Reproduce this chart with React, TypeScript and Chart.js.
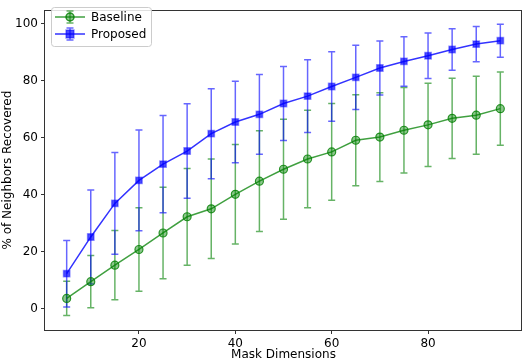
import React, { useEffect, useRef } from "react";
import { Chart, registerables } from "chart.js";

Chart.register(...registerables);

const xValues = [5, 10, 15, 20, 25, 30, 35, 40, 45, 50, 55, 60, 65, 70, 75, 80, 85, 90, 95];
const baseline = [3.5, 9.4, 15.2, 20.7, 26.5, 32.2, 35.0, 40.1, 44.7, 48.9, 52.5, 55.0, 59.1, 60.2, 62.6, 64.5, 66.8, 67.9, 70.2];
const baselineErr = [6.0, 9.2, 12.2, 14.7, 16.1, 17.0, 17.5, 17.5, 17.7, 17.6, 17.1, 17.0, 16.0, 15.6, 15.0, 14.6, 14.1, 13.7, 12.9];
const proposed = [12.2, 25.1, 36.9, 45.0, 50.7, 55.3, 61.4, 65.5, 68.2, 72.0, 74.6, 78.0, 81.2, 84.5, 86.8, 88.8, 91.0, 92.9, 94.1];
const proposedErr = [11.7, 16.5, 17.9, 17.7, 17.1, 16.6, 15.8, 14.3, 14.0, 13.0, 12.8, 12.2, 11.3, 9.5, 8.7, 8.0, 7.3, 6.2, 5.8];
const xTicks = [20, 40, 60, 80];
const yTicks = [0, 20, 40, 60, 80, 100];
const seriesNames = ["Baseline", "Proposed"];
const xTitle = "Mask Dimensions";
const yTitle = "% of Neighbors Recovered";

const FONT = "DejaVu Sans";
const GREEN_LINE = "rgba(0,128,0,0.75)";
const GREEN_ERR = "rgba(0,128,0,0.6)";
const BLUE_LINE = "rgba(0,0,255,0.8)";
const BLUE_ERR = "rgba(0,0,255,0.6)";

const errs = [baselineErr, proposedErr];
const errColors = [GREEN_ERR, BLUE_ERR];

const errorBarPlugin = {
  id: "errorBars",
  beforeDatasetsDraw(chart: any) {
    const ctx = chart.ctx;
    const y = chart.scales.y;
    const area = chart.chartArea;
    ctx.save();
    ctx.beginPath();
    ctx.rect(area.left, area.top, area.right - area.left, area.bottom - area.top);
    ctx.clip();
    chart.data.datasets.forEach((ds: any, i: number) => {
      const meta = chart.getDatasetMeta(i);
      ctx.strokeStyle = errColors[i];
      ctx.lineWidth = 1.5;
      meta.data.forEach((el: any, j: number) => {
        const v = ds.data[j].y;
        const e = errs[i][j];
        const top = y.getPixelForValue(v + e);
        const bot = y.getPixelForValue(v - e);
        const px = el.x;
        ctx.beginPath();
        ctx.moveTo(px, top);
        ctx.lineTo(px, bot);
        ctx.moveTo(px - 3.5, top);
        ctx.lineTo(px + 3.5, top);
        ctx.moveTo(px - 3.5, bot);
        ctx.lineTo(px + 3.5, bot);
        ctx.stroke();
      });
    });
    ctx.restore();
  },
  afterDraw(chart: any) {
    const ctx = chart.ctx;
    const a = chart.chartArea;
    ctx.save();
    // frame
    ctx.strokeStyle = "#333";
    ctx.lineWidth = 1;
    ctx.strokeRect(Math.round(a.left) - 0.5, Math.round(a.top) + 0.5, Math.round(a.right - a.left), Math.round(a.bottom - a.top));
    // axis titles
    ctx.fillStyle = "#000";
    ctx.font = `12px "${FONT}"`;
    ctx.textAlign = "center";
    ctx.textBaseline = "middle";
    ctx.fillText(xTitle, (a.left + a.right) / 2, 355);
    ctx.save();
    ctx.translate(8, (a.top + a.bottom) / 2);
    ctx.rotate(-Math.PI / 2);
    ctx.fillText(yTitle, 0, 0);
    ctx.restore();
    // legend
    const bx = 51.5, by = 7.5, bw = 100, bh = 39;
    ctx.fillStyle = "rgba(255,255,255,0.85)";
    ctx.strokeStyle = "#ccc";
    ctx.lineWidth = 1;
    ctx.beginPath();
    if ((ctx as any).roundRect) (ctx as any).roundRect(bx, by, bw, bh, 3);
    else ctx.rect(bx, by, bw, bh);
    ctx.fill();
    ctx.stroke();
    const rows = [17, 34];
    const lineCols = [GREEN_LINE, BLUE_LINE];
    rows.forEach((ry, i) => {
      ctx.strokeStyle = lineCols[i];
      ctx.lineWidth = 1.5;
      ctx.beginPath();
      ctx.moveTo(55, ry);
      ctx.lineTo(85, ry);
      ctx.stroke();
      ctx.strokeStyle = errColors[i];
      ctx.beginPath();
      ctx.moveTo(70, ry - 6);
      ctx.lineTo(70, ry + 6);
      ctx.moveTo(66.5, ry - 6);
      ctx.lineTo(73.5, ry - 6);
      ctx.moveTo(66.5, ry + 6);
      ctx.lineTo(73.5, ry + 6);
      ctx.stroke();
      if (i === 0) {
        ctx.fillStyle = "rgba(0,128,0,0.45)";
        ctx.strokeStyle = "rgba(0,128,0,0.8)";
        ctx.beginPath();
        ctx.arc(70, ry, 4, 0, Math.PI * 2);
        ctx.fill();
        ctx.stroke();
      } else {
        ctx.fillStyle = "rgba(0,0,255,0.7)";
        ctx.strokeStyle = "rgba(0,0,255,0.4)";
        ctx.fillRect(66, ry - 4, 8, 8);
        ctx.strokeRect(66, ry - 4, 8, 8);
      }
      ctx.fillStyle = "#000";
      ctx.font = `12px "${FONT}"`;
      ctx.textAlign = "left";
      ctx.textBaseline = "middle";
      ctx.fillText(seriesNames[i], 91, ry + 0.5);
    });
    ctx.restore();
  },
};

export default function App() {
  const ref = useRef<HTMLCanvasElement | null>(null);
  useEffect(() => {
    document.body.style.margin = "0";
    const canvas = ref.current!;
    const chart = new Chart(canvas, {
      type: "line",
      data: {
        datasets: [
          {
            label: seriesNames[0],
            data: xValues.map((x, i) => ({ x, y: baseline[i] })),
            borderColor: GREEN_LINE,
            borderWidth: 1.5,
            pointStyle: "circle",
            pointRadius: 4,
            pointBackgroundColor: "rgba(0,128,0,0.45)",
            pointBorderColor: "rgba(0,128,0,0.8)",
            pointBorderWidth: 1.2,
            tension: 0,
          },
          {
            label: seriesNames[1],
            data: xValues.map((x, i) => ({ x, y: proposed[i] })),
            borderColor: BLUE_LINE,
            borderWidth: 1.5,
            pointStyle: "rect",
            pointRadius: 4.5,
            pointBackgroundColor: "rgba(0,0,255,0.7)",
            pointBorderColor: "rgba(0,0,255,0.4)",
            pointBorderWidth: 1.5,
            tension: 0,
          },
        ],
      },
      options: {
        responsive: false,
        animation: false,
        layout: { padding: { top: 1, right: 1, left: 0, bottom: 0 } },
        plugins: { legend: { display: false }, tooltip: { enabled: false } },
        scales: {
          x: {
            type: "linear",
            min: 0.5,
            max: 99.5,
            afterFit: (s: any) => { s.height = 32; },
            afterBuildTicks: (s: any) => { s.ticks = xTicks.map((v) => ({ value: v })); },
            grid: { drawOnChartArea: false, drawTicks: true, tickLength: 4, tickColor: "#333" },
            border: { display: false },
            ticks: { color: "#000", font: { family: FONT, size: 12 }, padding: 3, maxRotation: 0 },
          },
          y: {
            type: "linear",
            min: -7.6,
            max: 104.8,
            afterFit: (s: any) => { s.width = 45; },
            afterBuildTicks: (s: any) => { s.ticks = yTicks.map((v) => ({ value: v })); },
            grid: { drawOnChartArea: false, drawTicks: true, tickLength: 4, tickColor: "#333" },
            border: { display: false },
            ticks: { color: "#000", font: { family: FONT, size: 12 }, padding: 3 },
          },
        },
      },
      plugins: [errorBarPlugin],
    } as any);
    return () => chart.destroy();
  }, []);
  return <canvas ref={ref} width={528} height={362} style={{ display: "block" }} />;
}
